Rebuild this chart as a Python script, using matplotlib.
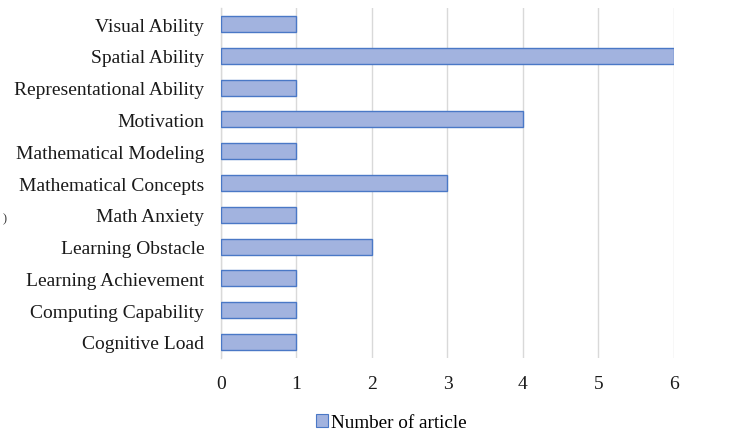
import matplotlib.pyplot as plt
from matplotlib.patches import Patch

plt.rcParams["font.family"] = ["Liberation Serif", "DejaVu Serif"]

# topics, listed top to bottom as they appear in the chart
topics = [
    "Visual Ability",
    "Spatial Ability",
    "Representational Ability",
    "Motivation",
    "Mathematical Modeling",
    "Mathematical Concepts",
    "Math Anxiety",
    "Learning Obstacle",
    "Learning Achievement",
    "Computing Capability",
    "Cognitive Load",
]
article_counts = [1, 6, 1, 4, 1, 3, 1, 2, 1, 1, 1]
x_ticks = [0, 1, 2, 3, 4, 5, 6]

BAR_FILL = "#a2b3df"
BAR_EDGE = "#4a78c6"
GRID = "#d9d9d9"

fig = plt.figure(figsize=(7.45, 4.35), dpi=100)
ax = fig.add_axes([0.2966, 0.175, 0.608, 0.804])

positions = list(range(len(topics)))[::-1]
ax.barh(positions, article_counts, height=0.5, color=BAR_FILL,
        edgecolor=BAR_EDGE, linewidth=1.0, zorder=3)

ax.set_xlim(0, 6)
ax.set_ylim(-0.5, len(topics) - 0.5)
ax.set_xticks(x_ticks)
ax.set_yticks(positions)
ax.set_yticklabels(topics)
ax.tick_params(axis="both", length=0, labelsize=14, colors="#1a1a1a")
ax.tick_params(axis="x", pad=12)
ax.tick_params(axis="y", pad=12)

ax.grid(axis="x", color=GRID, linewidth=1.0, zorder=0)
for side in ["top", "right", "bottom"]:
    ax.spines[side].set_visible(False)
ax.spines["left"].set_color(GRID)
ax.spines["left"].set_linewidth(1.0)

handle = Patch(facecolor=BAR_FILL, edgecolor=BAR_EDGE, linewidth=0.8)
fig.legend([handle], ["Number of article"], loc="center",
           bbox_to_anchor=(0.525, 0.026), frameon=False, fontsize=13.8,
           handlelength=0.65, handleheight=0.65, handletextpad=0.15)

fig.text(0.004, 0.497, ")", fontsize=9, color="#333333", va="center")

fig.savefig("out.png", dpi=100)
